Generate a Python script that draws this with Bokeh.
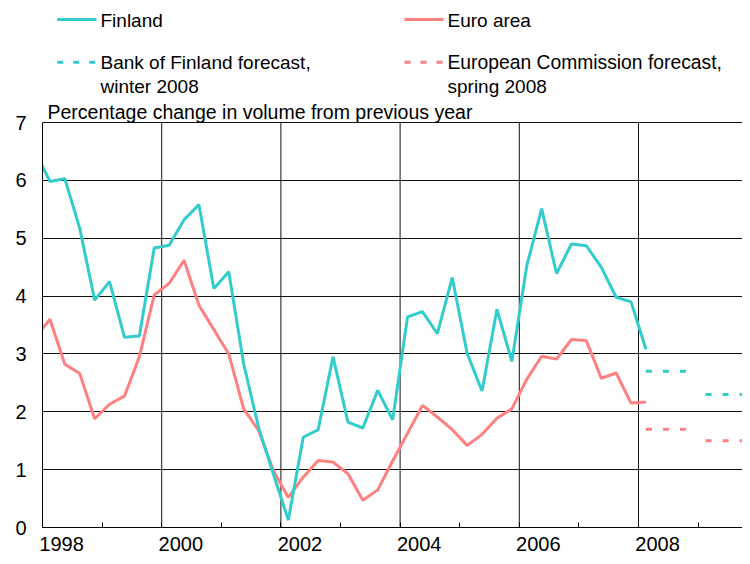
from bokeh.plotting import figure
from bokeh.models import FixedTicker, Range1d, Label, Arrow, ColumnDataSource
from bokeh.embed import file_html
from bokeh.resources import INLINE

# ---------------- data ----------------
quarters = ["1997Q4"] + [f"{y}Q{q}" for y in range(1998, 2008) for q in range(1, 5)] + ["2008Q1"]

finland = [6.50,
           5.98, 6.03, 5.17, 3.93,
           4.25, 3.29, 3.31, 4.83,
           4.88, 5.32, 5.58, 4.13,
           4.42, 2.83, 1.73, 0.92,
           0.13, 1.56, 1.69, 2.95,
           1.82, 1.72, 2.37, 1.86,
           3.64, 3.73, 3.35, 4.32,
           3.01, 2.36, 3.77, 2.87,
           4.52, 5.51, 4.39, 4.90,
           4.87, 4.50, 3.98, 3.90,
           3.08]

euro_area = [3.28,
             3.60, 2.82, 2.66, 1.88,
             2.13, 2.27, 2.95, 4.02,
             4.22, 4.62, 3.84, 3.42,
             3.00, 2.05, 1.68, 0.98,
             0.52, 0.87, 1.16, 1.13,
             0.93, 0.47, 0.65, 1.15,
             1.63, 2.11, 1.91, 1.69,
             1.42, 1.61, 1.89, 2.05,
             2.56, 2.96, 2.91, 3.25,
             3.23, 2.58, 2.67, 2.15,
             2.17]

forecast_years = [2008, 2009]
bof_forecast = [2.7, 2.3]      # Bank of Finland forecast, winter 2008
ec_forecast = [1.7, 1.5]       # European Commission forecast, spring 2008

year_labels = ["1998", "2000", "2002", "2004", "2006", "2008"]
y_ticks = [0, 1, 2, 3, 4, 5, 6, 7]

# ---------------- styling / layout ----------------
FONT = "Liberation Sans"
CYAN = "#33CCCC"
RED = "#FF8080"

W, H = 742, 556
FL, FB = 42, 29                  # frame borders (px)
X0, X1 = 1998.0, 2009.745
Y_MIN, Y_MAX = 0, 7
PX_PER_UNIT = 405 / (Y_MAX - Y_MIN)
frame_w = W - FL
frame_h = H - FB                  # frame reaches the top of the canvas; legend lives there
Y_TOP = Y_MIN + frame_h / PX_PER_UNIT
TEXT_SHIFT = -6                   # baseline correction for labels (px)


def qx(q):
    y, n = q.split("Q")
    return int(y) + (int(n) - 0.5) / 4.0


def dx(px):  # canvas px -> data x
    return X0 + (px - FL) * (X1 - X0) / frame_w


def dy(py):  # canvas px -> data y
    return Y_MIN + (frame_h - py) / PX_PER_UNIT


xs = [qx(q) for q in quarters]
src = ColumnDataSource(dict(x=xs, fin=finland, euro=euro_area))
fc = ColumnDataSource(dict(
    x0=[y + 0.125 for y in forecast_years],
    x1=[y + 0.875 for y in forecast_years],
    bof=bof_forecast, ec=ec_forecast))

p = figure(width=W, height=H, output_backend="svg", toolbar_location=None,
           x_range=Range1d(X0, X1), y_range=Range1d(Y_MIN, Y_TOP),
           min_border_left=FL, min_border_top=0, min_border_bottom=FB,
           min_border_right=0, background_fill_color="white",
           border_fill_color="white")
p.outline_line_color = None

# grid: horizontal lines via the grid, vertical year lines only within the value area
p.xgrid.visible = False
p.ygrid.ticker = FixedTicker(ticks=y_ticks[1:])
p.ygrid.grid_line_color = "#111111"
p.ygrid.grid_line_width = 1
grid_years = [int(s) for s in year_labels[1:]]
p.segment(x0=grid_years, y0=[Y_MIN] * len(grid_years), x1=grid_years,
          y1=[Y_MAX] * len(grid_years), line_color="#111111", line_width=1)

# x axis: labels sit a little right of the year line
label_pos = [int(s) + 0.32 for s in year_labels]
p.xaxis.ticker = FixedTicker(ticks=label_pos, minor_ticks=list(range(1998, 2010)))
p.xaxis.major_label_overrides = {lp: s for lp, s in zip(label_pos, year_labels)}
p.xaxis.major_tick_line_color = None
p.xaxis.major_tick_out = 0
p.xaxis.major_tick_in = 0
p.xaxis.minor_tick_line_color = "black"
p.xaxis.minor_tick_in = 5
p.xaxis.minor_tick_out = 0
p.xaxis.major_label_standoff = 9
p.xaxis.major_label_text_line_height = 0.8
p.xaxis.axis_line_color = "black"

p.yaxis.ticker = FixedTicker(ticks=y_ticks)
p.yaxis.bounds = (Y_MIN, Y_MAX)
p.yaxis.major_tick_out = 0
p.yaxis.major_tick_in = 0
p.yaxis.minor_tick_line_color = None
p.yaxis.major_label_standoff = 16
p.yaxis.axis_line_color = "black"

for ax in (p.xaxis, p.yaxis):
    ax.major_label_text_font = FONT
    ax.major_label_text_font_size = "20px"
    ax.major_label_text_color = "black"

# data lines
p.line("x", "euro", source=src, line_color=RED, line_width=3)
p.line("x", "fin", source=src, line_color=CYAN, line_width=3)
p.segment("x0", "bof", "x1", "bof", source=fc, line_color=CYAN, line_width=3,
          line_dash="6 11")
p.segment("x0", "ec", "x1", "ec", source=fc, line_color=RED, line_width=3,
          line_dash="6 11")


# legend (drawn by hand to mirror the original layout)
def sample(x_a, x_b, y, color, dash):
    p.add_layout(Arrow(end=None, x_start=dx(x_a), x_end=dx(x_b), y_start=dy(y), y_end=dy(y),
                       line_color=color, line_width=3, line_dash=dash))


def text(x, y, s, size="19px"):
    p.add_layout(Label(x=dx(x), y=dy(y + TEXT_SHIFT), text=s, text_font=FONT,
                       text_font_size=size, text_color="black", text_align="left",
                       text_baseline="alphabetic"))


sample(56.7, 96, 19, CYAN, "solid")
text(100, 25.7, "Finland")
sample(404, 443, 19, RED, "solid")
text(447, 25.7, "Euro area")
sample(56.7, 96, 61.7, CYAN, "6 10")
text(100, 68.3, "Bank of Finland forecast,")
text(100, 92.3, "winter 2008")
sample(404, 443, 61.7, RED, "6 10")
text(447, 68.3, "European Commission forecast,", size="19.3px")
text(447, 92.3, "spring 2008")
text(47, 117, "Percentage change in volume from previous year", size="19.5px")

open("out.html", "w").write(file_html(p, INLINE))
